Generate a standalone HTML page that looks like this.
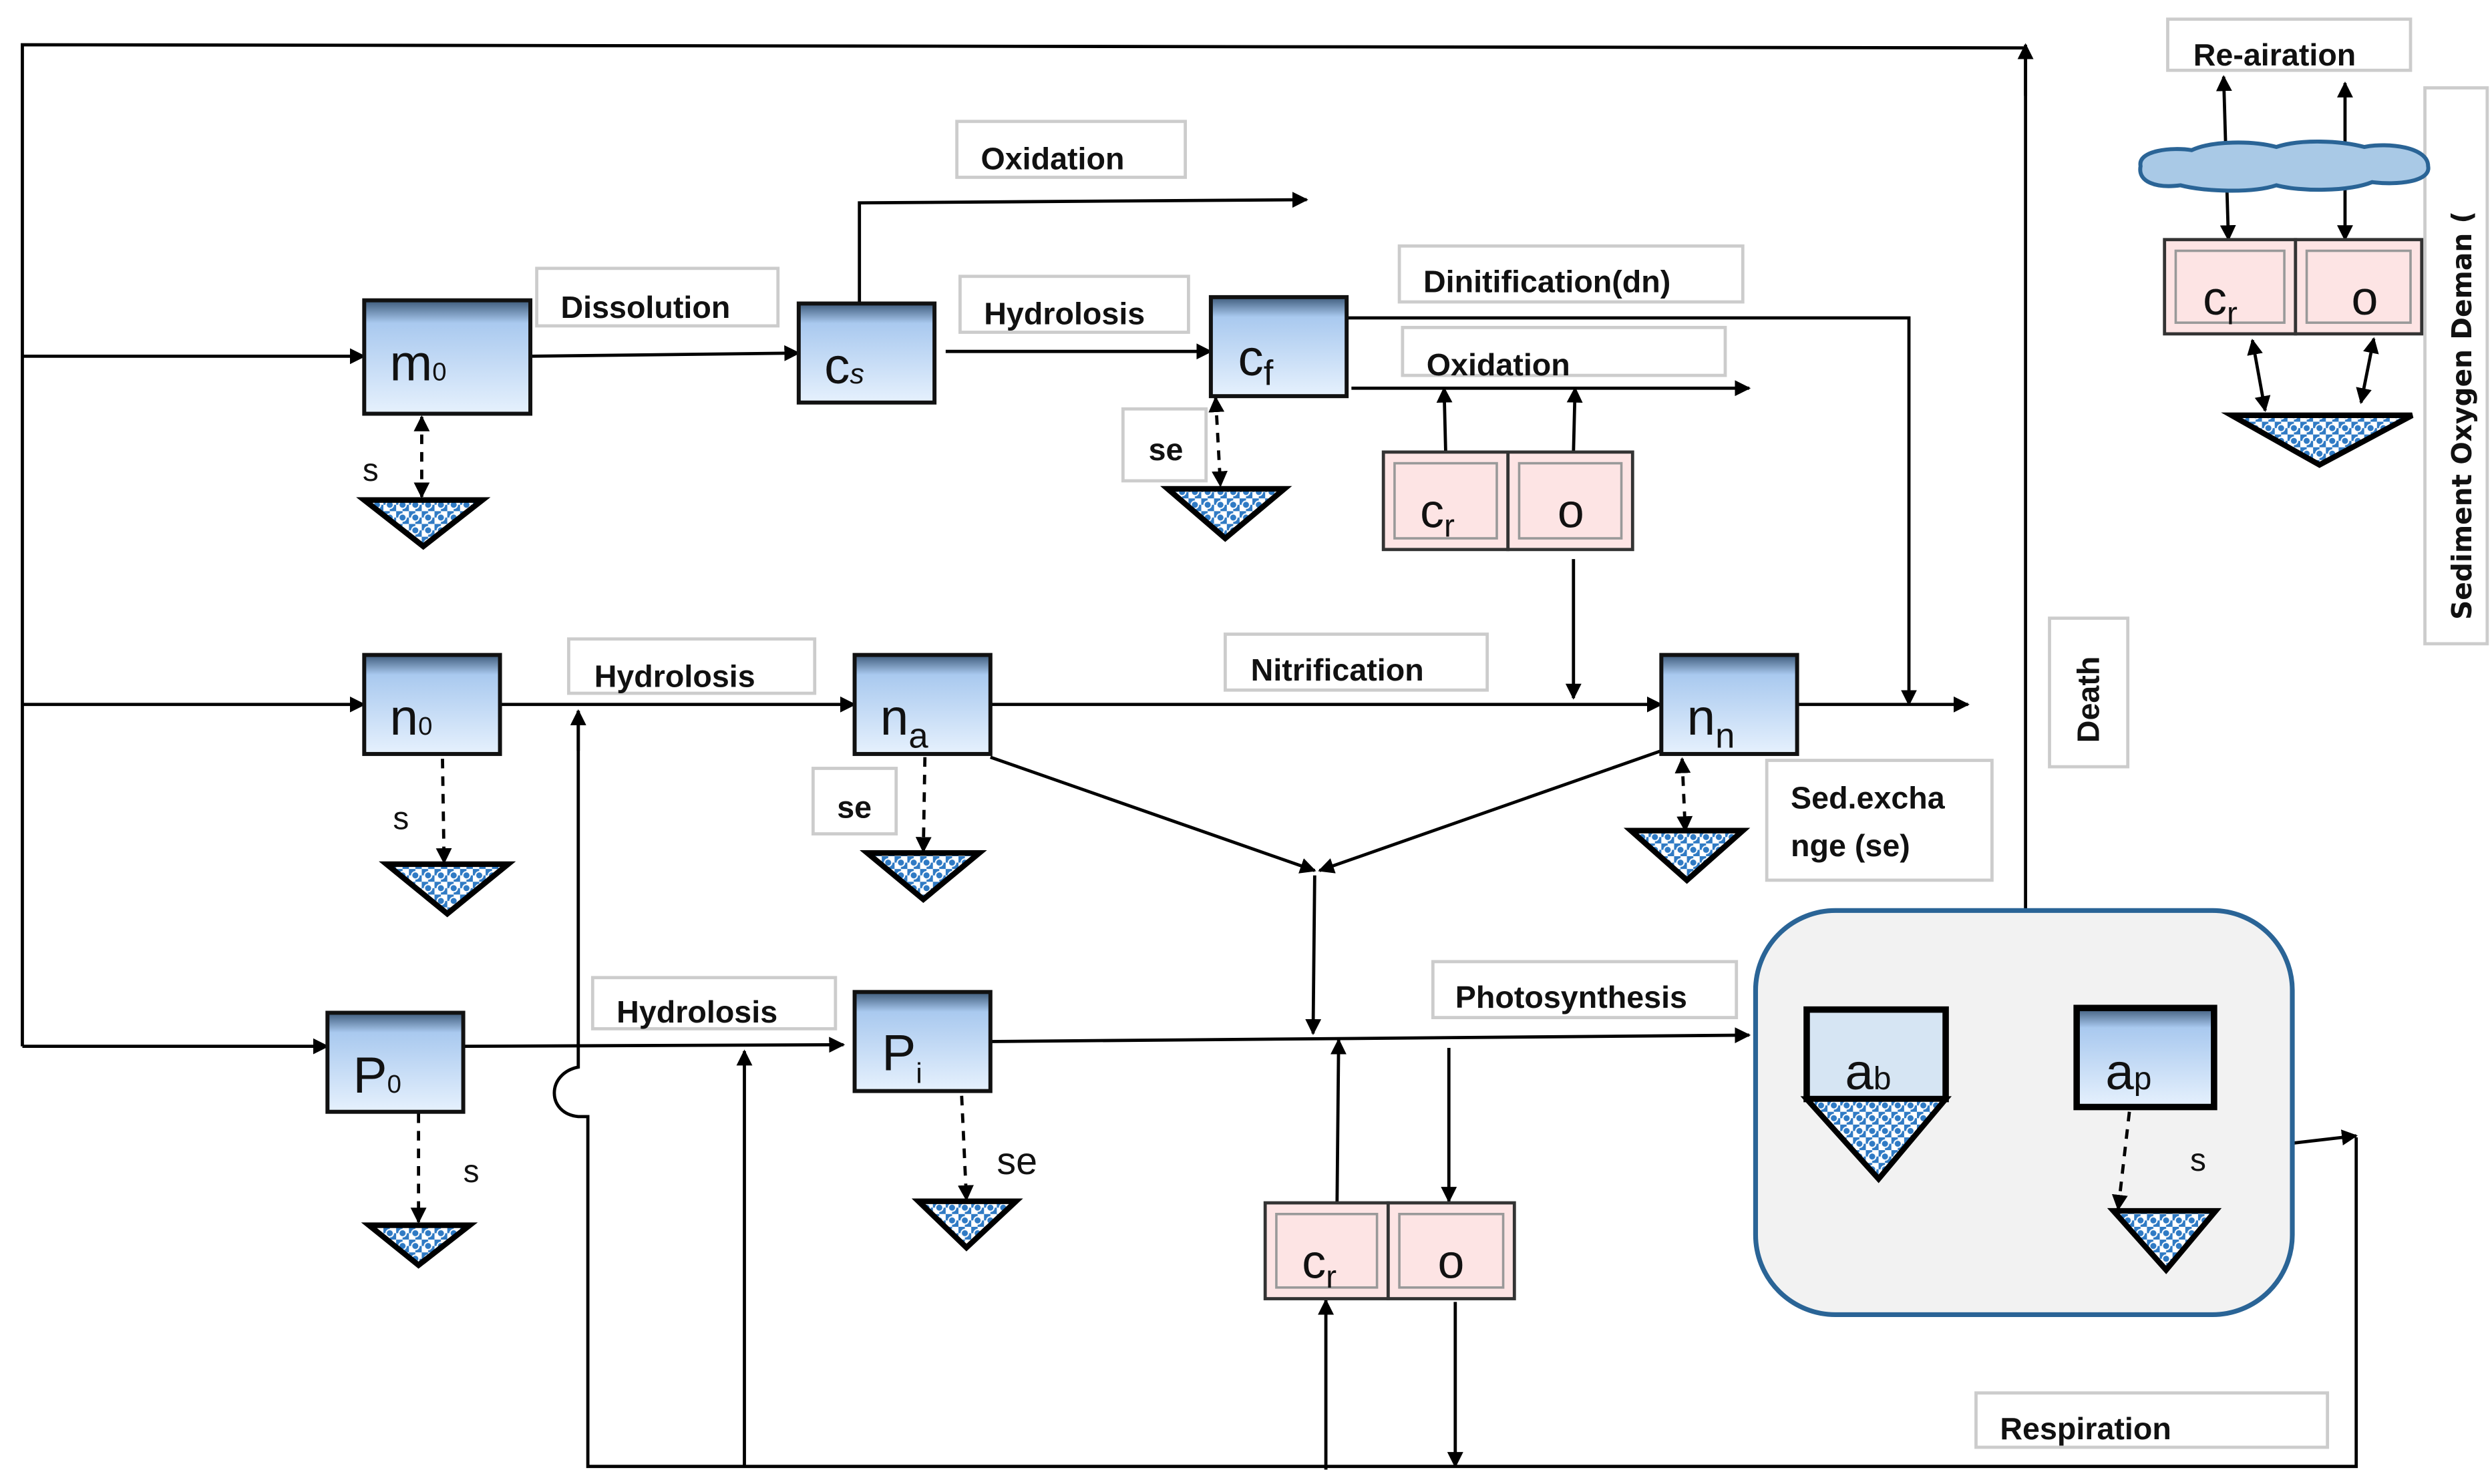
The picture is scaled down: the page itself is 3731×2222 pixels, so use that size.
<!DOCTYPE html>
<html><head><meta charset="utf-8"><style>
html,body{margin:0;padding:0;background:#fff}
svg{display:block}
.lb{font-family:"Liberation Sans",sans-serif;font-weight:bold;font-size:19.5px;fill:#111}
.nd{font-family:"Liberation Sans",sans-serif;font-size:32px;fill:#111}
.sm{font-family:"Liberation Sans",sans-serif;font-size:20px;fill:#111}
</style></head><body>
<svg width="3731" height="2222" viewBox="0 0 1560 929" preserveAspectRatio="none" xmlns="http://www.w3.org/2000/svg">
<defs>
<marker id="a" viewBox="0 0 10 10" refX="9" refY="5" markerWidth="5" markerHeight="5" orient="auto-start-reverse"><path d="M0,0L10,5L0,10z" fill="#000"/></marker>
<linearGradient id="g" x1="0" y1="0" x2="0" y2="1"><stop offset="0" stop-color="#3d5a7a"/><stop offset="0.2" stop-color="#a9c9ef"/><stop offset="1" stop-color="#e6f1fd"/></linearGradient>
<pattern id="p" width="8" height="8" patternUnits="userSpaceOnUse"><rect width="8" height="8" fill="#fff"/><rect width="4" height="4" fill="#2f7ac4"/><rect x="4" y="4" width="4" height="4" fill="#2f7ac4"/><circle cx="4" cy="4" r="2.3" fill="#2f7ac4" stroke="#fff" stroke-width="0.8"/></pattern>
</defs>
<g fill="none" stroke="#000" stroke-width="2">
<polyline points="14,655 14,28 1268,30 1268,570"/>
<line x1="1268" y1="60" x2="1268" y2="28" marker-end="url(#a)"/>
<line x1="14" y1="223" x2="228" y2="223" marker-end="url(#a)"/>
<line x1="14" y1="441" x2="228" y2="441" marker-end="url(#a)"/>
<line x1="14" y1="655" x2="205" y2="655" marker-end="url(#a)"/>
<line x1="332" y1="223" x2="500" y2="221" marker-end="url(#a)"/>
<polyline points="538,190 538,127 818,125" marker-end="url(#a)"/>
<line x1="592" y1="220" x2="758" y2="220" marker-end="url(#a)"/>
<polyline points="843,199 1195,199 1195,441" marker-end="url(#a)"/>
<line x1="846" y1="243" x2="1095" y2="243" marker-end="url(#a)"/>
<line x1="905" y1="283" x2="904" y2="243" marker-end="url(#a)"/>
<line x1="985" y1="283" x2="986" y2="243" marker-end="url(#a)"/>
<line x1="985" y1="350" x2="985" y2="437" marker-end="url(#a)"/>
<line x1="313" y1="441" x2="535" y2="441" marker-end="url(#a)"/>
<line x1="620" y1="441" x2="1040" y2="441" marker-end="url(#a)"/>
<line x1="1125" y1="441" x2="1232" y2="441" marker-end="url(#a)"/>
<line x1="620" y1="474" x2="823" y2="545" marker-end="url(#a)"/>
<line x1="1040" y1="470" x2="826" y2="545" marker-end="url(#a)"/>
<line x1="823" y1="548" x2="822" y2="647" marker-end="url(#a)"/>
<line x1="290" y1="655" x2="528" y2="654" marker-end="url(#a)"/>
<path d="M362,445 L362,668 C342,672 342,697 362,699 L368,699 L368,918 L1475,918 L1475,712"/>
<line x1="362" y1="470" x2="362" y2="445" marker-end="url(#a)"/>
<line x1="1432" y1="716" x2="1475" y2="711" marker-end="url(#a)"/>
<line x1="466" y1="918" x2="466" y2="658" marker-end="url(#a)"/>
<line x1="620" y1="652" x2="1095" y2="648" marker-end="url(#a)"/>
<line x1="837" y1="753" x2="838" y2="651" marker-end="url(#a)"/>
<line x1="907" y1="656" x2="907" y2="752" marker-end="url(#a)"/>
<line x1="830" y1="920" x2="830" y2="814" marker-end="url(#a)"/>
<line x1="911" y1="815" x2="911" y2="918" marker-end="url(#a)"/>
<line x1="1395" y1="150" x2="1392" y2="48" marker-end="url(#a)" marker-start="url(#a)"/>
<line x1="1468" y1="150" x2="1468" y2="52" marker-end="url(#a)" marker-start="url(#a)"/>
<line x1="1410" y1="213" x2="1418" y2="257" marker-end="url(#a)" marker-start="url(#a)"/>
<line x1="1486" y1="212" x2="1478" y2="252" marker-end="url(#a)" marker-start="url(#a)"/>
</g>
<g fill="none" stroke="#000" stroke-width="2" stroke-dasharray="6,5">
<line x1="264" y1="261" x2="264" y2="311" marker-end="url(#a)" marker-start="url(#a)"/>
<line x1="761" y1="249" x2="764" y2="304" marker-end="url(#a)" marker-start="url(#a)"/>
<line x1="277" y1="475" x2="278" y2="540" marker-end="url(#a)"/>
<line x1="579" y1="474" x2="578" y2="533" marker-end="url(#a)"/>
<line x1="1053" y1="475" x2="1055" y2="520" marker-end="url(#a)" marker-start="url(#a)"/>
<line x1="262" y1="686" x2="262" y2="765" marker-end="url(#a)"/>
<line x1="602" y1="686" x2="605" y2="751" marker-end="url(#a)"/>
</g>
<g fill="#fff" stroke="#ccc" stroke-width="2">
<rect x="336" y="168" width="151" height="36"/>
<rect x="599" y="76" width="143" height="35"/>
<rect x="601" y="173" width="143" height="35"/>
<rect x="876" y="154" width="215" height="35"/>
<rect x="878" y="205" width="202" height="30"/>
<rect x="703" y="256" width="52" height="45"/>
<rect x="356" y="400" width="154" height="34"/>
<rect x="767" y="397" width="164" height="35"/>
<rect x="509" y="481" width="52" height="41"/>
<rect x="1106" y="476" width="141" height="75"/>
<rect x="371" y="612" width="152" height="32"/>
<rect x="897" y="602" width="190" height="35"/>
<rect x="1283" y="387" width="49" height="93"/>
<rect x="1237" y="872" width="220" height="34"/>
<rect x="1357" y="12" width="152" height="32"/>
<rect x="1518" y="55" width="39" height="348"/>
</g>
<g class="lb">
<text x="351" y="199">Dissolution</text>
<text x="614" y="106">Oxidation</text>
<text x="616" y="203">Hydrolosis</text>
<text x="891" y="183">Dinitification(dn)</text>
<text x="893" y="235">Oxidation</text>
<text x="719" y="288">se</text>
<text x="372" y="430">Hydrolosis</text>
<text x="783" y="426">Nitrification</text>
<text x="524" y="512">se</text>
<text x="1121" y="506">Sed.excha</text>
<text x="1121" y="536">nge (se)</text>
<text x="386" y="640">Hydrolosis</text>
<text x="911" y="631">Photosynthesis</text>
<text x="1252" y="901">Respiration</text>
<text x="1373" y="41">Re-airation</text>
<text transform="translate(1314,465) rotate(-90)">Death</text>
<text transform="translate(1547,388) rotate(-90)" style="font-family:'DejaVu Sans',sans-serif;font-size:17px">Sediment Oxygen Deman (</text>
</g>
<g stroke="#111" stroke-width="2.5" fill="url(#g)">
<rect x="228" y="188" width="104" height="71"/>
<rect x="500" y="190" width="85" height="62"/>
<rect x="758" y="186" width="85" height="62"/>
<rect x="228" y="410" width="85" height="62"/>
<rect x="535" y="410" width="85" height="62"/>
<rect x="1040" y="410" width="85" height="62"/>
<rect x="205" y="634" width="85" height="62"/>
<rect x="535" y="621" width="85" height="62"/>
</g>
<g class="nd">
<text x="244" y="238">m<tspan font-size="16">0</tspan></text>
<text x="516" y="240">c<tspan font-size="18" font-style="italic">s</tspan></text>
<text x="775" y="235">c<tspan font-size="22" dy="6">f</tspan></text>
<text x="244" y="460">n<tspan font-size="16">0</tspan></text>
<text x="551" y="460">n<tspan font-size="22" dy="8">a</tspan></text>
<text x="1056" y="460">n<tspan font-size="22" dy="8">n</tspan></text>
<text x="221" y="684">P<tspan font-size="16">0</tspan></text>
<text x="552" y="670">P<tspan font-size="18" dy="8">i</tspan></text>
</g>
<g stroke="#333" stroke-width="2" fill="#fde4e4">
<rect x="866" y="283" width="78" height="61"/><rect x="944" y="283" width="78" height="61"/>
<rect x="792" y="753" width="77" height="60"/><rect x="869" y="753" width="79" height="60"/>
<rect x="1355" y="150" width="82" height="59"/><rect x="1437" y="150" width="79" height="59"/>
</g>
<g stroke="#999" stroke-width="1.5" fill="none">
<rect x="873" y="290" width="64" height="47"/><rect x="951" y="290" width="64" height="47"/>
<rect x="799" y="760" width="63" height="46"/><rect x="876" y="760" width="65" height="46"/>
<rect x="1362" y="157" width="68" height="45"/><rect x="1444" y="157" width="65" height="45"/>
</g>
<g class="nd">
<text x="889" y="330" font-size="30">c<tspan font-size="20" dy="6">r</tspan></text>
<text x="975" y="330" font-size="30">o</text>
<text x="815" y="800" font-size="30">c<tspan font-size="20" dy="6">r</tspan></text>
<text x="900" y="800" font-size="30">o</text>
<text x="1379" y="197" font-size="30">c<tspan font-size="20" dy="6">r</tspan></text>
<text x="1472" y="197" font-size="30">o</text>
</g>
<path d="M1340,104 C1338,94 1360,92 1372,94 C1385,88 1410,88 1425,92 C1440,87 1465,88 1480,92 C1495,89 1520,92 1520,104 C1522,114 1500,116 1485,114 C1470,120 1440,120 1425,116 C1410,121 1380,120 1365,116 C1350,118 1338,114 1340,104z" fill="#a9c9e6" stroke="#2a6496" stroke-width="2.5"/>
<g fill="url(#p)" stroke="#000" stroke-width="3.5">
<path d="M228,313L302,313L265,342z"/>
<path d="M731,306L804,306L767,337z"/>
<path d="M242,541L318,541L280,572z"/>
<path d="M543,534L613,534L578,563z"/>
<path d="M1021,520L1091,520L1056,551z"/>
<path d="M231,767L294,767L262,792z"/>
<path d="M575,752L636,752L605,781z"/>
<path d="M1397,260L1510,260L1452,291z"/>
</g>
<rect x="1099" y="570" width="336" height="253" rx="50" fill="#f2f2f2" stroke="#2a6496" stroke-width="3"/>
<rect x="1131" y="632" width="87" height="56" fill="#d6e5f3" stroke="#000" stroke-width="4"/>
<path d="M1131,688L1218,688L1176,738z" fill="url(#p)" stroke="#000" stroke-width="3.5"/>
<rect x="1300" y="631" width="86" height="62" fill="url(#g)" stroke="#000" stroke-width="4"/>
<line x1="1333" y1="696" x2="1326" y2="757" stroke="#000" stroke-width="2" stroke-dasharray="6,5" marker-end="url(#a)"/>
<path d="M1323,758L1387,758L1356,795z" fill="url(#p)" stroke="#000" stroke-width="3.5"/>
<text class="nd" x="1155" y="682">a<tspan font-size="20">b</tspan></text>
<text class="nd" x="1318" y="682">a<tspan font-size="20">p</tspan></text>
<g class="sm">
<text x="227" y="301">s</text>
<text x="246" y="519">s</text>
<text x="290" y="740">s</text>
<text x="624" y="735" font-size="24">se</text>
<text x="1371" y="733">s</text>
</g>
</svg>
</body></html>
